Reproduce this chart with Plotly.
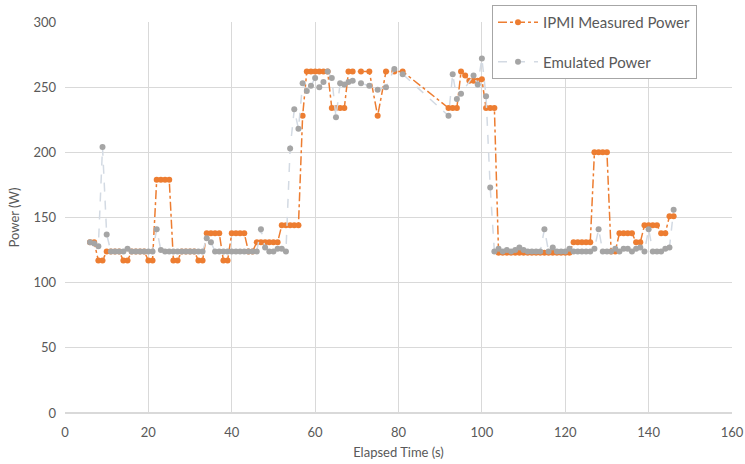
import plotly.graph_objects as go

# IPMI Measured Power
ipmi_t = [6, 7, 8, 9, 10, 11, 12, 13, 14, 15, 16, 17, 18, 19, 20, 21, 22, 23, 24, 25,
          26, 27, 28, 29, 30, 31, 32, 33, 34, 35, 36, 37, 38, 39, 40, 41, 42, 43, 44, 45,
          46, 47, 48, 49, 50, 51, 52, 53, 54, 55, 56, 57, 58, 59, 60, 61, 62, 63, 64, 65,
          66, 67, 68, 69, 71, 73, 75, 77, 79, 81, 92, 93, 94, 95, 96, 97, 98, 99, 100, 101,
          102, 103, 104, 105, 106, 107, 108, 109, 110, 111, 112, 113, 114, 115, 116, 117, 118, 119, 120, 121,
          122, 123, 124, 125, 126, 127, 128, 129, 130, 131, 132, 133, 134, 135, 136, 137, 138, 139, 140, 141,
          142, 143, 144, 145, 146]
ipmi_w = [131, 131, 117, 117, 124, 124, 124, 124, 117, 117, 124, 124, 124, 124, 117, 117, 179, 179, 179, 179,
          117, 117, 124, 124, 124, 124, 117, 117, 138, 138, 138, 138, 117, 117, 138, 138, 138, 138, 124, 124,
          131, 131, 131, 131, 131, 131, 144, 144, 144, 144, 144, 228, 262, 262, 262, 262, 262, 262, 234, 234,
          234, 234, 262, 262, 262, 262, 228, 262, 262, 262, 234, 234, 234, 262, 259, 255, 255, 255, 256, 234,
          234, 234, 123, 123, 123, 123, 123, 123, 123, 123, 123, 123, 123, 123, 123, 123, 123, 123, 123, 123,
          131, 131, 131, 131, 131, 200, 200, 200, 200, 124, 124, 138, 138, 138, 138, 131, 131, 144, 144, 144,
          144, 138, 138, 151, 151]

# Emulated Power
emu_t = [6, 7, 8, 9, 10, 11, 12, 13, 14, 15, 16, 17, 18, 19, 20, 21, 22, 23, 24, 25,
         26, 27, 28, 29, 30, 31, 32, 33, 34, 35, 36, 37, 38, 39, 40, 41, 42, 43, 44, 45,
         46, 47, 48, 49, 50, 51, 52, 53, 54, 55, 56, 57, 58, 59, 60, 61, 62, 63, 64, 65,
         66, 67, 68, 69, 71, 73, 75, 77, 79, 81, 92, 93, 94, 95, 98, 99, 100, 101, 102, 103,
         104, 105, 106, 107, 108, 109, 110, 111, 112, 113, 114, 115, 116, 117, 118, 119, 120, 121, 122, 123,
         124, 125, 126, 127, 128, 129, 130, 131, 132, 133, 134, 135, 136, 137, 138, 139, 140, 141, 142, 143,
         144, 145, 146]
emu_w = [131, 130, 128, 204, 137, 124, 124, 124, 124, 126, 124, 124, 124, 124, 124, 124, 141, 125, 124, 124,
         124, 124, 124, 124, 124, 124, 124, 124, 134, 131, 124, 124, 124, 124, 124, 124, 124, 124, 124, 124,
         124, 141, 127, 124, 124, 126, 126, 124, 203, 233, 218, 253, 247, 251, 257, 250, 254, 262, 257, 227,
         253, 252, 254, 255, 253, 251, 248, 250, 264, 260, 228, 260, 241, 245, 259, 252, 272, 243, 173, 124,
         126, 124, 125, 124, 125, 127, 125, 124, 124, 124, 124, 141, 124, 127, 124, 124, 124, 126, 124, 124,
         124, 124, 124, 126, 141, 124, 124, 124, 126, 124, 126, 126, 124, 126, 127, 124, 141, 124, 124, 124,
         126, 127, 156]

x_ticks = [0, 20, 40, 60, 80, 100, 120, 140, 160]
y_ticks = [0, 50, 100, 150, 200, 250, 300]

FONT = "Lato"
TXT = "#595959"

fig = go.Figure()
fig.add_trace(go.Scatter(
    x=ipmi_t, y=ipmi_w, mode="lines+markers", name="IPMI Measured Power",
    line=dict(color="#ED7D31", width=1.5, dash="dashdot"),
    marker=dict(color="#ED7D31", size=6), legendgroup="a"))
fig.add_trace(go.Scatter(
    x=emu_t, y=emu_w, mode="lines+markers", name="Emulated Power",
    line=dict(color="#D3DAE3", width=1.5, dash="dash"),
    marker=dict(color="#A5A5A5", size=6), legendgroup="b"))

fig.update_layout(
    width=745, height=464,
    margin=dict(l=65, r=13, t=22, b=51, autoexpand=False),
    paper_bgcolor="white", plot_bgcolor="white",
    font=dict(family=FONT, size=12, color=TXT),
    legend=dict(x=492 / 745, y=1 - 5 / 464, xref="container", yref="container",
                xanchor="left", yanchor="top",
                bordercolor="#A6A6A6", borderwidth=1, bgcolor="white",
                font=dict(size=15, color=TXT), tracegroupgap=17,
                itemwidth=40),
    showlegend=True,
)
fig.update_xaxes(range=[0, 160], tickvals=x_ticks, showgrid=True, gridcolor="#D9D9D9",
                 zeroline=False, showline=False, ticks="", automargin=False,
                 tickfont=dict(size=13), ticklabelstandoff=10,
                 title=dict(text="Elapsed Time (s)", font=dict(size=13, color=TXT), standoff=8))
fig.update_yaxes(range=[0, 300], tickvals=y_ticks, showgrid=True, gridcolor="#D9D9D9",
                 zeroline=True, zerolinecolor="#D9D9D9", showline=False, ticks="", automargin=False,
                 tickfont=dict(size=13), ticklabelstandoff=8,
                 title=dict(text="Power (W)", font=dict(size=13, color=TXT), standoff=10))

fig.write_html("out.html", config={"displayModeBar": False},
               post_script="document.body.style.margin='0';")
